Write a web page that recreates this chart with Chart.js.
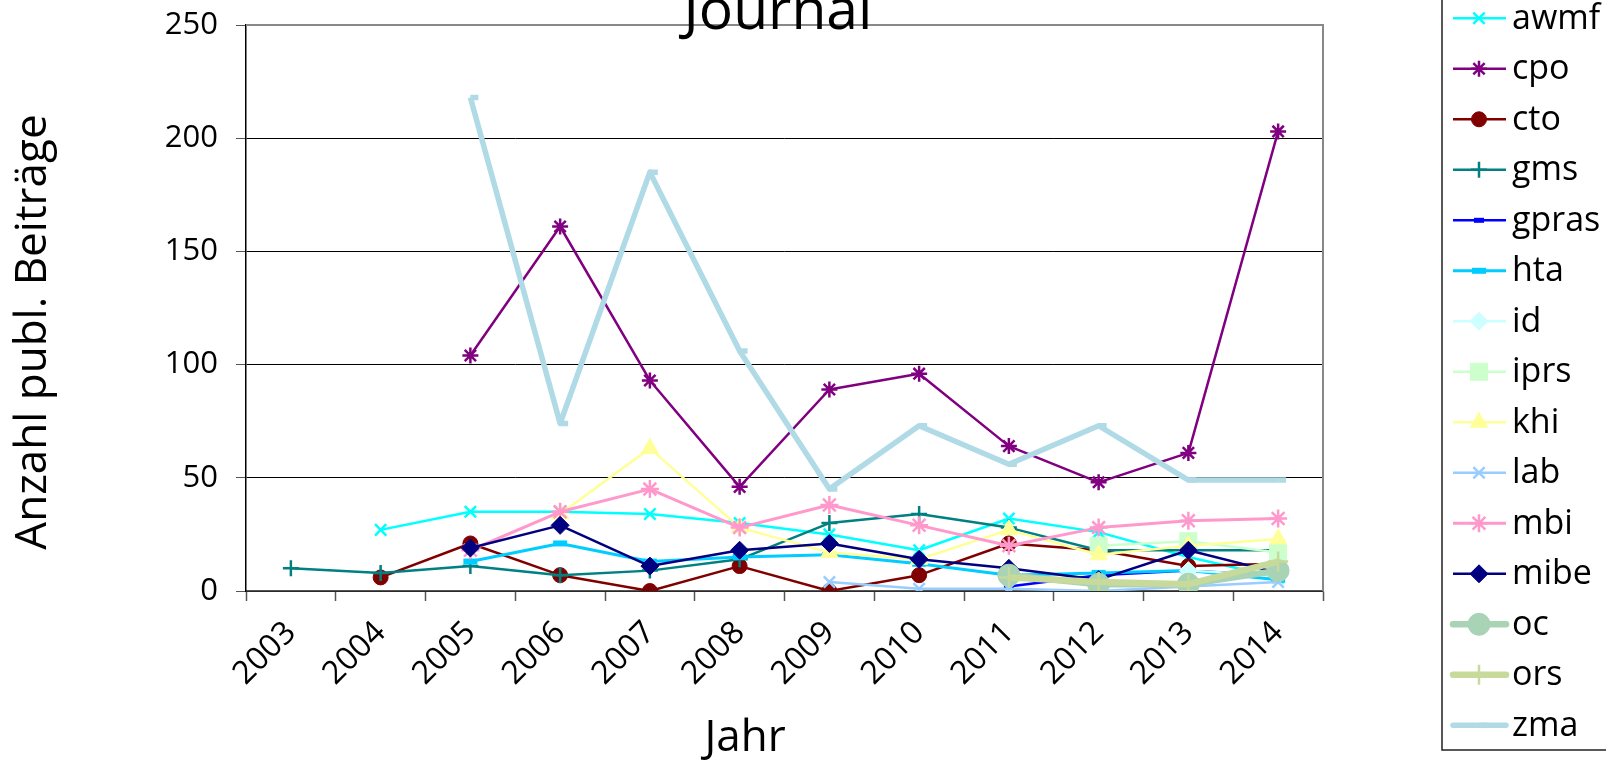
<!DOCTYPE html>
<html><head><meta charset="utf-8">
<script src="https://cdn.jsdelivr.net/npm/chart.js@4.4.1/dist/chart.umd.min.js"></script>
<style>html,body{margin:0;padding:0;background:#fff;overflow:hidden}#wrap{position:relative;width:1606px;height:760px}</style>
</head><body><div id="wrap"><canvas id="c" width="1606" height="760"></canvas></div>
<script>
const years = ['2003','2004','2005','2006','2007','2008','2009','2010','2011','2012','2013','2014'];
const yTickValues = [0, 50, 100, 150, 200, 250];
const chartTitle = 'Journal';
const xTitle = 'Jahr';
const yTitle = 'Anzahl publ. Beiträge';
const seriesNames = ['awmf','cpo','cto','gms','gpras','hta','id','iprs','khi','lab','mbi','mibe','oc','ors','zma'];
const awmf  = [null, 27, 35, 35, 34, 30, 25, 18, 32, 26, 15, 6];
const cpo   = [null, null, 104, 161, 93, 46, 89, 96, 64, 48, 61, 203];
const cto   = [null, 6, 21, 7, 0, 11, 0, 7, 21, 18, 11, 12];
const gms   = [10, 8, 11, 7, 9, 14, 30, 34, 28, 18, 18, 18];
const gpras = [null, null, null, null, null, null, null, null, 2, 7, 9, 7];
const hta   = [null, null, 13, 21, 13, 15, 16, 12, 7, 8, 9, 5];
const id    = [null, null, null, null, null, null, null, null, null, null, 9, 7];
const iprs  = [null, null, null, null, null, null, null, null, null, 20, 22, 17];
const khi   = [null, null, null, 34, 63, 28, 17, 14, 27, 16, 20, 23];
const lab   = [null, null, null, null, null, null, 4, 1, 1, 0, 2, 4];
const mbi   = [null, null, 18, 35, 45, 28, 38, 29, 20, 28, 31, 32];
const mibe  = [null, null, 19, 29, 11, 18, 21, 14, 10, 5, 18, 8];
const oc    = [null, null, null, null, null, null, null, null, 7, 3, 3, 9];
const ors   = [null, null, null, null, null, null, null, null, 6, 4, 3, 13];
const zma   = [null, null, 218, 74, 185, 106, 45, 73, 56, 73, 49, 49];
const seriesValues = [awmf,cpo,cto,gms,gpras,hta,id,iprs,khi,lab,mbi,mibe,oc,ors,zma];

// styles (colour, line width, marker style, marker radius, marker border width)
const styles = [
  ['#00ffff', 2.5, 'crossRot', 8, 2.5],
  ['#800080', 2.5, 'star', 8, 2.5],
  ['#800000', 2.5, 'circle', 7.5, 1],
  ['#008080', 2.5, 'cross', 8, 2.5],
  ['#0000ff', 2.5, 'line', 5, 5],
  ['#00ccff', 3, 'line', 7, 6],
  ['#ccffff', 2.5, 'rectRot', 9, 1],
  ['#ccffcc', 2.5, 'rect', 12, 1],
  ['#ffff99', 2.5, 'triangle', 10, 1],
  ['#99ccff', 2.5, 'crossRot', 8, 2.5],
  ['#ff99cc', 3, 'star', 9, 2.5],
  ['#000080', 2.5, 'rectRot', 9, 1],
  ['#a9d3b5', 6.5, 'circle', 11, 1],
  ['#c7d99b', 6.5, 'cross', 10, 2.5],
  ['#b0dbe6', 5.5, 'dash', 8, 5.5]
];

const datasets = seriesNames.map((n, i) => {
  const s = styles[i];
  return {
    label: n, data: seriesValues[i],
    borderColor: s[0], backgroundColor: s[0],
    borderWidth: s[1], pointStyle: s[2], pointRadius: s[3], pointBorderWidth: s[4],
    pointBackgroundColor: s[0], pointBorderColor: s[0],
    tension: 0, fill: false, order: seriesNames.length - 1 - i
  };
});

const FONT = 'Open Sans';

const decor = {
  id: 'decor',
  afterDraw(chart) {
    const ctx = chart.ctx, a = chart.chartArea;
    ctx.save();
    ctx.strokeStyle = '#888'; ctx.lineWidth = 2;
    ctx.beginPath(); ctx.moveTo(a.left, a.top); ctx.lineTo(a.right, a.top); ctx.lineTo(a.right, a.bottom); ctx.stroke();
    ctx.fillStyle = '#000';
    ctx.font = '57px "' + FONT + '"';
    ctx.textAlign = 'center'; ctx.textBaseline = 'alphabetic';
    ctx.fillText(chartTitle, 778, 29);
    ctx.font = '44px "' + FONT + '"';
    ctx.fillText(xTitle, 745, 751);
    ctx.save();
    ctx.translate(33, 332); ctx.rotate(-Math.PI / 2);
    ctx.textBaseline = 'middle';
    ctx.fillText(yTitle, 0, 0);
    ctx.restore();
    const lx = 1442, ly0 = 18.3, step = 50.5;
    ctx.fillStyle = '#fff';
    ctx.fillRect(lx, -5, 200, 755);
    ctx.strokeStyle = '#222'; ctx.lineWidth = 1.5;
    ctx.strokeRect(lx, -5, 200, 755);
    chart.data.datasets.forEach((d, i) => {
      const y = ly0 + step * i;
      ctx.strokeStyle = d.borderColor; ctx.lineWidth = d.borderWidth;
      ctx.lineCap = d.borderWidth > 4 ? 'round' : 'butt';
      ctx.beginPath(); ctx.moveTo(1453, y); ctx.lineTo(1506, y); ctx.stroke();
      ctx.lineCap = 'butt';
      ctx.fillStyle = d.pointBackgroundColor; ctx.strokeStyle = d.pointBorderColor;
      ctx.lineWidth = d.pointBorderWidth;
      Chart.helpers.drawPoint(ctx, {pointStyle: d.pointStyle, radius: d.pointRadius, borderWidth: d.pointBorderWidth, rotation: 0}, 1479, y);
      ctx.fillStyle = '#000';
      ctx.font = '34px "' + FONT + '"';
      ctx.textAlign = 'left'; ctx.textBaseline = 'middle';
      ctx.fillText(d.label, 1512, y + 1);
    });
    ctx.restore();
  }
};

new Chart(document.getElementById('c'), {
  type: 'line',
  data: { labels: years, datasets },
  options: {
    responsive: false, animation: false, devicePixelRatio: 1,
    layout: { padding: { top: 25, right: 283, left: 0, bottom: 0 } },
    plugins: { legend: { display: false }, title: { display: false }, tooltip: { enabled: false } },
    elements: { line: { borderJoinStyle: 'round' } },
    scales: {
      x: {
        offset: true,
        grid: { offset: true, drawOnChartArea: false, drawTicks: true, tickLength: 10, tickColor: '#555', tickWidth: 1.5 },
        border: { color: '#555', width: 1.5 },
        ticks: { minRotation: 45, maxRotation: 45, autoSkip: false, padding: 13, color: '#000', font: { family: FONT, size: 32 } },
        afterFit: s => { s.height = 169; s.paddingLeft = 0; s.paddingRight = 0; }
      },
      y: {
        min: 0, max: 250,
        afterBuildTicks: s => { s.ticks = yTickValues.map(v => ({ value: v })); },
        grid: { color: c => (c.tick && c.tick.value === 250) ? '#888' : '#000', lineWidth: 1, tickLength: 10, tickColor: '#555' },
        border: { color: '#000', width: 1.5 },
        ticks: { padding: 18, color: '#000', font: { family: FONT, size: 31 } },
        afterFit: s => { s.width = 246; s.paddingTop = 0; s.paddingBottom = 0; }
      }
    }
  },
  plugins: [decor]
});
</script></body></html>
